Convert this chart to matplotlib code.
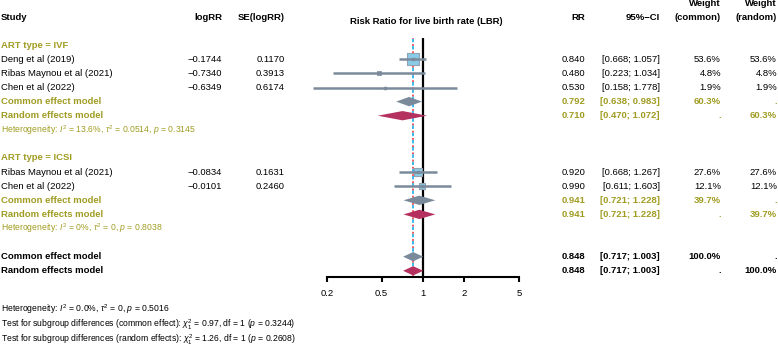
import matplotlib.pyplot as plt
import matplotlib.transforms as mtransforms
from matplotlib.ticker import NullLocator, FixedLocator, FixedFormatter

plt.rcParams['font.family'] = ['Liberation Sans', 'DejaVu Sans']
plt.rcParams['mathtext.fontset'] = 'custom'
plt.rcParams['mathtext.rm'] = 'Liberation Sans'
plt.rcParams['mathtext.it'] = 'Liberation Sans:italic'
plt.rcParams['mathtext.bf'] = 'Liberation Sans:bold'

# study level data
ivf_studies = ["Deng et al (2019)", "Ribas Maynou et al (2021)", "Chen et al (2022)"]
ivf_logrr = ["\u22120.1744", "\u22120.7340", "\u22120.6349"]
ivf_se = ["0.1170", "0.3913", "0.6174"]
ivf_rr = [0.840, 0.480, 0.530]
ivf_lo = [0.668, 0.223, 0.158]
ivf_hi = [1.057, 1.034, 1.778]
ivf_w = [53.6, 4.8, 1.9]

icsi_studies = ["Ribas Maynou et al (2021)", "Chen et al (2022)"]
icsi_logrr = ["\u22120.0834", "\u22120.0101"]
icsi_se = ["0.1631", "0.2460"]
icsi_rr = [0.920, 0.990]
icsi_lo = [0.668, 0.611]
icsi_hi = [1.267, 1.603]
icsi_w = [27.6, 12.1]

# pooled estimates: (rr, lo, hi, weight common, weight random)
ivf_common = (0.792, 0.638, 0.983, "60.3%", ".")
ivf_random = (0.710, 0.470, 1.072, ".", "60.3%")
icsi_common = (0.941, 0.721, 1.228, "39.7%", ".")
icsi_random = (0.941, 0.721, 1.228, ".", "39.7%")
all_common = (0.848, 0.717, 1.003, "100.0%", ".")
all_random = (0.848, 0.717, 1.003, ".", "100.0%")

ivf_het = r"Heterogeneity: $I^2$ = 13.6%, $\tau^2$ = 0.0514, $p$ = 0.3145"
icsi_het = r"Heterogeneity: $I^2$ = 0%, $\tau^2$ = 0, $p$ = 0.8038"
bottom_notes = [
    r"Heterogeneity: $I^2$ = 0.0%, $\tau^2$ = 0, $p$ = 0.5016",
    r"Test for subgroup differences (common effect): $\chi^2_1$ = 0.97, df = 1 ($p$ = 0.3244)",
    r"Test for subgroup differences (random effects): $\chi^2_1$ = 1.26, df = 1 ($p$ = 0.2608)",
]
ticks = [0.2, 0.5, 1, 2, 5]

OLIVE = '#a09c22'
C_COMMON = '#7a8a9a'
C_RANDOM = '#b3305f'
C_LINE = '#7b8b9b'
C_SQ = '#8acbe8'
FS = 6.8

W, H = 778, 346
fig = plt.figure(figsize=(W / 100, H / 100), dpi=100)
row_h = 14.1
y0 = 17
def row_of(px):
    return (px - y0) / row_h

ax = fig.add_axes([285.3 / W, (H - 277) / H, 275.4 / W, (277 - 38) / H])
ax.set_facecolor('none')
ax.set_xscale('log')
ax.set_xlim(0.1, 10)
ax.set_ylim(row_of(277), row_of(38))
for s in ('top', 'left', 'right'):
    ax.spines[s].set_visible(False)
ax.spines['bottom'].set_bounds(0.2, 5)
ax.spines['bottom'].set_linewidth(1.5)
ax.xaxis.set_major_locator(FixedLocator(ticks))
ax.xaxis.set_major_formatter(FixedFormatter([f"{t:g}" for t in ticks]))
ax.xaxis.set_minor_locator(NullLocator())
ax.tick_params(axis='x', length=3.8, width=1.5, pad=5, labelsize=FS)
ax.set_yticks([])

ax.axvline(1, color='black', lw=1.6, zorder=1)
ax.axvline(all_random[0], color='#2db3ea', lw=1.3, ls=(2, (2, 2)), zorder=2)
ax.axvline(all_common[0], color='#ee4a50', lw=1.3, ls=(0, (1, 3)), zorder=2.5)

trans = mtransforms.blended_transform_factory(fig.transFigure, ax.transData)

def txt(xpx, row, s, ha='left', **kw):
    kw.setdefault('fontsize', FS)
    fig.text(xpx / W, row, s, ha=ha, va='center', transform=trans, **kw)

def study_rows(start, names, logrr, se, rr, lo, hi, w):
    for k, name in enumerate(names):
        r = start + k
        ax.plot([lo[k], hi[k]], [r, r], color=C_LINE, lw=1.8, zorder=4,
                solid_capstyle='butt', clip_on=False)
        ax.scatter([rr[k]], [r], marker='s', s=1.4 * w[k], color=C_SQ,
                   edgecolor='#93a3b3', linewidth=0.8, zorder=3, clip_on=False)
        ax.scatter([rr[k]], [r], marker='s', s=4, color=C_LINE, zorder=5, clip_on=False)
        txt(1, r, name)
        txt(222, r, logrr[k], ha='right')
        txt(285, r, se[k], ha='right')
        txt(585, r, f"{rr[k]:.3f}", ha='right')
        txt(660, r, f"[{lo[k]:.3f}; {hi[k]:.3f}]", ha='right')
        txt(721, r, f"{w[k]:.1f}%", ha='right')
        txt(777, r, f"{w[k]:.1f}%", ha='right')

def pooled_row(r, label, est, color, fill, hh=0.33):
    rr, lo, hi, wc, wr = est
    ax.fill([lo, rr, hi, rr], [r, r - hh, r, r + hh], color=fill, lw=0, zorder=4)
    txt(1, r, label, color=color, fontweight='bold')
    txt(585, r, f"{rr:.3f}", ha='right', color=color, fontweight='bold')
    txt(660, r, f"[{lo:.3f}; {hi:.3f}]", ha='right', color=color, fontweight='bold')
    txt(721, r, wc, ha='right', color=color, fontweight='bold')
    txt(777, r, wr, ha='right', color=color, fontweight='bold')

# headers
txt(1, 0, "Study", fontweight='bold')
txt(222, 0, "logRR", ha='right', fontweight='bold')
txt(285, 0, "SE(logRR)", ha='right', fontweight='bold')
txt(426, row_of(21), "Risk Ratio for live birth rate (LBR)", ha='center', fontweight='bold')
txt(585, 0, "RR", ha='right', fontweight='bold')
txt(660, 0, "95%\u2212CI", ha='right', fontweight='bold')
txt(721, row_of(4), "Weight", ha='right', fontweight='bold')
txt(721, 0, "(common)", ha='right', fontweight='bold')
txt(777, row_of(4), "Weight", ha='right', fontweight='bold')
txt(777, 0, "(random)", ha='right', fontweight='bold')

# IVF subgroup
txt(1, 2, "ART type = IVF", color=OLIVE, fontweight='bold')
study_rows(3, ivf_studies, ivf_logrr, ivf_se, ivf_rr, ivf_lo, ivf_hi, ivf_w)
pooled_row(6, "Common effect model", ivf_common, OLIVE, C_COMMON)
pooled_row(7, "Random effects model", ivf_random, OLIVE, C_RANDOM)
txt(1, 8, ivf_het, color=OLIVE, fontsize=6.2)

# ICSI subgroup
txt(1, 10, "ART type = ICSI", color=OLIVE, fontweight='bold')
study_rows(11, icsi_studies, icsi_logrr, icsi_se, icsi_rr, icsi_lo, icsi_hi, icsi_w)
pooled_row(13, "Common effect model", icsi_common, OLIVE, C_COMMON)
pooled_row(14, "Random effects model", icsi_random, OLIVE, C_RANDOM)
txt(1, 15, icsi_het, color=OLIVE, fontsize=6.2)

# overall
pooled_row(17, "Common effect model", all_common, 'black', C_COMMON)
pooled_row(18, "Random effects model", all_random, 'black', C_RANDOM)

for ypx, note in zip([309, 325, 340], bottom_notes):
    txt(1, row_of(ypx), note, fontsize=6.2)

fig.savefig("out.png", dpi=100)
